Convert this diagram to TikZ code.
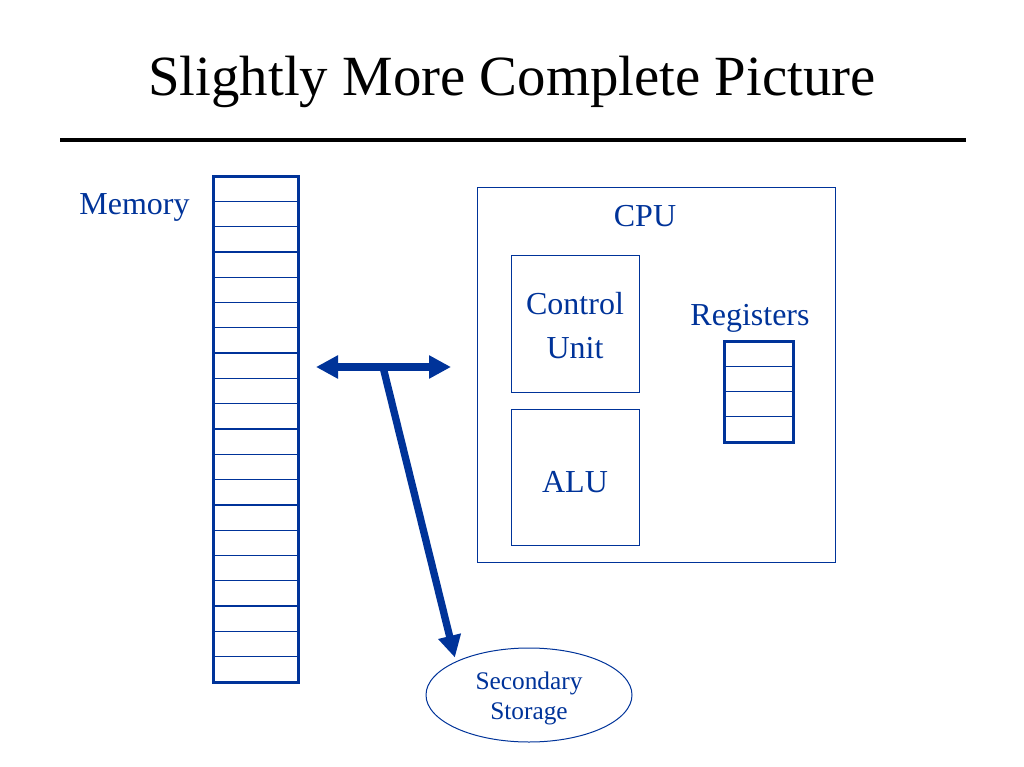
\documentclass[tikz,border=0pt]{standalone}
\usepackage{fontspec}
\setmainfont{Liberation Serif}
\usetikzlibrary{arrows.meta,shapes.geometric}
\definecolor{pptblue}{HTML}{003399}
\tikzset{every picture/.style={line width=0.75pt}}
\tikzset{
  label/.style={text=pptblue,inner sep=0.75pt,font=\fontsize{24}{33}\selectfont,align=center},
  thinbox/.style={draw=pptblue,line width=0.75pt,inner sep=0pt},
  cellbox/.style={draw=pptblue,line width=2.25pt,inner sep=0pt},
  bus/.style={draw=pptblue,line width=5.5pt}
}

\begin{document}
\begin{tikzpicture}[x=0.75pt,y=0.75pt,yscale=-1,xscale=1]
\path (0,0) rectangle (1024,767); %set diagram size 1024 x 767

% Title
\node (title) at (512,82) [inner sep=0pt] {\fontsize{42.6}{46}\selectfont Slightly More Complete Picture};
%Straight Lines [rule under title]
\draw [line width=3pt] (60,140) -- (966,140);

%Shape: Rectangle [memory]
\node (mem) at (255.5,429) [cellbox,minimum width=63.75pt,minimum height=379.5pt] {};
\foreach \i in {1,...,19}
  \draw [pptblue,line width=1pt] (213,176+25.3*\i) -- (298,176+25.3*\i);
% Text Node
\node (memlbl) at (134.5,207) [label] {Memory};

%Shape: Rectangle [cpu]
\node (cpu) at (656,374.5) [thinbox,minimum width=268.5pt,minimum height=281.25pt] {};
% Text Node
\node (cpulbl) at (645,216) [label] {CPU};

%Shape: Rectangle [control unit]
\node (cu) at (575,323.5) [thinbox,minimum width=96pt,minimum height=102.75pt] {};
\node (culbl) at (575,326) [label] {Control\\Unit};

%Shape: Rectangle [alu]
\node (alu) at (575,477) [thinbox,minimum width=96pt,minimum height=102pt] {};
\node (alulbl) at (575,482) [label] {ALU};

%Shape: Rectangle [registers]
\node (reg) at (758.5,391.5) [cellbox,minimum width=51.75pt,minimum height=75.75pt] {};
\foreach \i in {1,2,3}
  \draw [pptblue,line width=1pt] (724,341+25.25*\i) -- (793,341+25.25*\i);
% Text Node
\node (reglbl) at (750,318) [label] {Registers};

%Shape: Ellipse [secondary storage]
\node (store) at (529,695) [ellipse,draw=pptblue,line width=0.75pt,minimum width=154.5pt,minimum height=70.5pt] {};
% Text Node
\node (storelbl) at (529,698) [label,font=\fontsize{19}{22.5}\selectfont] {Secondary\\Storage};

%Straight Lines [bus]
\coordinate (busL) at (316,367);
\coordinate (busR) at (451,367);
\coordinate (busJ) at (383,367);
\draw [bus,{Triangle[length=16.5pt,width=16.5pt]}-{Triangle[length=16.5pt,width=16.5pt]}] (busL) -- (busR);
\draw [bus,-{Triangle[length=16.5pt,width=16.5pt]},shorten >=3pt] (busJ) -- (store.north west);

\end{tikzpicture}
\end{document}
